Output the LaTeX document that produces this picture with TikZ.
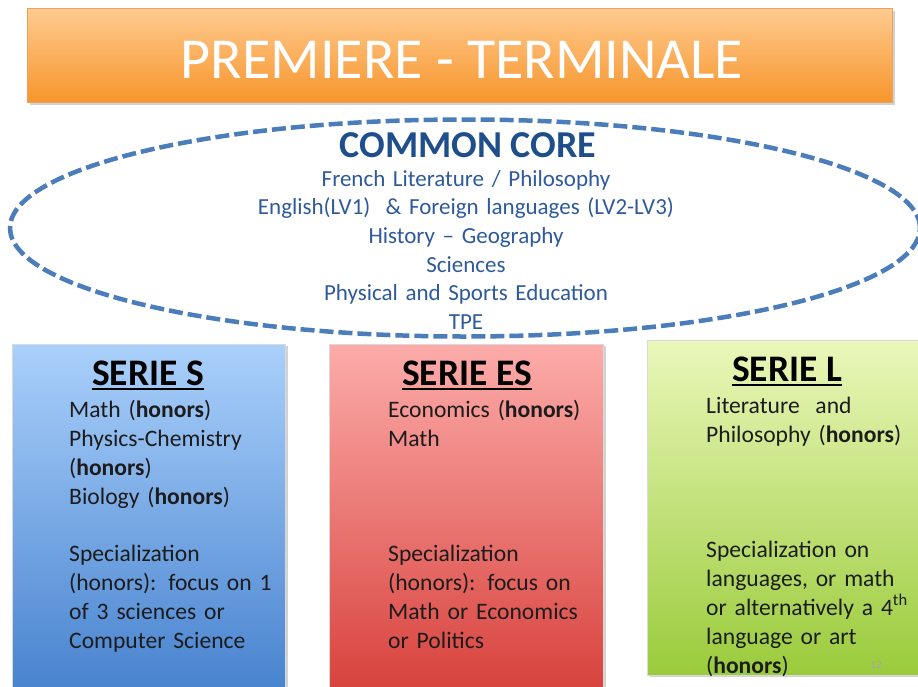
\documentclass[tikz,border=0pt]{standalone}
\usepackage{fontspec}
\setmainfont{Carlito}
\usetikzlibrary{shapes.geometric,shadows}
\newcommand{\serul}[1]{\setbox0\hbox{#1}\rlap{\raisebox{-5pt}{\rule{\wd0}{1.8pt}}}\box0}
\definecolor{titletop}{HTML}{FFCB90}
\definecolor{titlebottom}{HTML}{F7952C}
\definecolor{titleedge}{HTML}{E9A35A}
\definecolor{stop}{HTML}{AAD0FB}
\definecolor{sbottom}{HTML}{4883CF}
\definecolor{estop}{HTML}{FCACAA}
\definecolor{esbottom}{HTML}{D8423D}
\definecolor{ltop}{HTML}{EAF7BA}
\definecolor{lbottom}{HTML}{9ACB3B}
\definecolor{coreline}{HTML}{4A7DBA}
\definecolor{corehead}{HTML}{1F4E8D}
\definecolor{coretext}{HTML}{2E5A9B}
\definecolor{bodytext}{HTML}{1C1C1C}
\begin{document}
\begin{tikzpicture}[
        x=1pt, y=-1pt,
        titlebox/.style={
            rectangle,
            minimum width=865pt,
            minimum height=94pt,
            top color=titletop,
            bottom color=titlebottom,
            draw=titleedge,
            line width=0.6pt,
            drop shadow={shadow xshift=2pt, shadow yshift=-3pt, opacity=0.35}
        },
        titletext/.style={
            anchor=base,
            inner sep=0pt,
            text=white,
            font=\fontsize{58}{62}\selectfont
        },
        core/.style={
            ellipse,
            draw=coreline,
            line width=4.5pt,
            dash pattern=on 14pt off 5pt,
            minimum width=910pt,
            minimum height=217pt
        },
        corehd/.style={
            anchor=base,
            inner sep=0pt,
            text=corehead,
            font=\fontsize{38}{42}\selectfont\bfseries
        },
        corelist/.style={
            anchor=base,
            inner sep=0pt,
            text width=560pt,
            align=center,
            text=coretext,
            font=\fontsize{23}{28.7}\selectfont
        },
        serbox/.style={
            rectangle,
            anchor=north west,
            draw=white!85!black,
            line width=0.5pt,
            drop shadow={shadow xshift=3pt, shadow yshift=-2pt, opacity=0.35}
        },
        serhead/.style={
            anchor=base,
            inner sep=0pt,
            text=black,
            font=\fontsize{37.5}{40}\selectfont\bfseries
        },
        body/.style={
            anchor=base west,
            inner sep=0pt,
            text width=#1,
            align=left,
            text=bodytext,
            font=\fontsize{23.6}{29}\selectfont
        }
    ]
        \fill[white] (0,0) rectangle (918,686);
        \useasboundingbox (0,0) rectangle (918,686);

        \node[titlebox] (title) at (460,55) {};
        \node[titletext] (titlelbl) at (462,78) {PREMIERE - TERMINALE};

        \node[serbox, top color=stop, bottom color=sbottom,
              minimum width=273pt, minimum height=345pt] (boxS) at (12,344) {};
        \node[serbox, top color=estop, bottom color=esbottom,
              minimum width=274pt, minimum height=345pt] (boxES) at (329,344) {};
        \node[serbox, top color=ltop, bottom color=lbottom,
              minimum width=285pt, minimum height=335pt] (boxL) at (647,340) {};

        \node[core] (ring) at (465,228) {};
        \node[corehd] (corettl) at (468,157) {COMMON CORE};
        \node[corelist] (coresubj) at (466,186) {French Literature / Philosophy\\
            English(LV1)\ \ \& Foreign languages (LV2-LV3)\\
            History -- Geography\\
            Sciences\\
            Physical and Sports Education\\
            TPE};

        \node[serhead] (headS) at (148,385) {\serul{SERIE S}};
        \node[body=215pt] (textS) at (69,417) {Math (\textbf{honors})\\
            Physics-Chemistry\\
            (\textbf{honors})\\
            Biology (\textbf{honors})\\[28pt]
            Specialization\\
            (honors): focus on 1\\
            of 3 sciences or\\
            Computer Science};

        \node[serhead] (headES) at (467,385) {\serul{SERIE ES}};
        \node[body=215pt] (textES) at (388,417) {Economics (\textbf{honors})\\
            Math\\[86pt]
            Specialization\\
            (honors): focus on\\
            Math or Economics\\
            or Politics};

        \node[serhead] (headL) at (787,381) {\serul{SERIE L}};
        \node[body=210pt] (textL) at (706,413) {Literature\ \ and\\
            Philosophy (\textbf{honors})\\[86pt]
            Specialization on\\
            languages, or math\\
            or alternatively a 4\textsuperscript{th}\\
            language or art\\
            (\textbf{honors})};

        \node[anchor=base, inner sep=0pt, text=black!35,
              font=\fontsize{11}{12}\selectfont] (pagenum) at (876,668) {12};
    \end{tikzpicture}
\end{document}
